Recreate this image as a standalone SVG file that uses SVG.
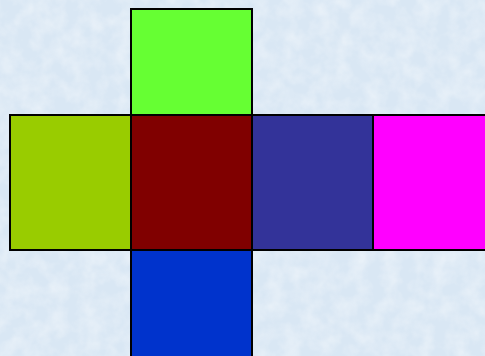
<svg xmlns="http://www.w3.org/2000/svg" width="485" height="356" viewBox="0 0 485 356">
  <defs>
    <filter id="tex" x="0" y="0" width="100%" height="100%">
      <feTurbulence type="fractalNoise" baseFrequency="0.06" numOctaves="3" seed="4" result="n"/>
      <feColorMatrix in="n" type="matrix" values="0 0 0 0 1  0 0 0 0 1  0 0 0 0 1  0 0 0 0.9 -0.3" result="w"/>
      <feComposite in="w" in2="SourceGraphic" operator="in"/>
    </filter>
    <style>
      .face { stroke: #000; stroke-width: 2; }
    </style>
  </defs>
  <rect x="0" y="0" width="485" height="356" fill="#d9e7f4"/>
  <rect x="0" y="0" width="485" height="356" fill="#d9e7f4" filter="url(#tex)" opacity="0.8"/>
  <g id="top"><rect class="face" x="131" y="9" width="121" height="106" fill="#66ff33"/></g>
  <g id="left"><rect class="face" x="10" y="115" width="121" height="135" fill="#99cc00"/></g>
  <g id="front"><rect class="face" x="131" y="115" width="121" height="135" fill="#800000"/></g>
  <g id="right"><rect class="face" x="252" y="115" width="121" height="135" fill="#333399"/></g>
  <g id="back"><rect class="face" x="373" y="115" width="121" height="135" fill="#ff00ff"/></g>
  <g id="bottom"><rect class="face" x="131" y="250" width="121" height="115" fill="#0033cc"/></g>
  <g id="connectors"/>
</svg>
